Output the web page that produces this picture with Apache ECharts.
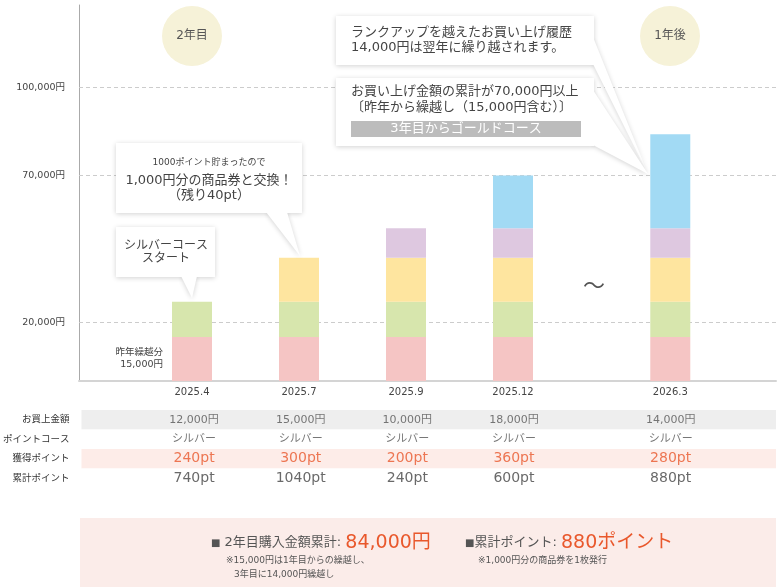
<!DOCTYPE html>
<html>
<head>
<meta charset="utf-8">
<script src="https://cdn.jsdelivr.net/npm/echarts@6/dist/echarts.min.js"></script>
<style>
html, body { margin: 0; padding: 0; background: #fff; }
#main { width: 777px; height: 588px; }
</style>
</head>
<body>
<div id="main"></div>
<script>
// datos del gráfico
const cats = ['2025.4', '2025.7', '2025.9', '2025.12', '2026.3'];
const xPos = [0, 1, 2, 3, 4.47];          // posición de cada barra (hay un salto antes de 2026.3)
const carryOver = [15000, 15000, 15000, 15000, 15000];
const buy1 = [12000, 12000, 12000, 12000, 12000];
const buy2 = ['-', 15000, 15000, 15000, 15000];
const buy3 = ['-', '-', 10000, 10000, 10000];
const buy4 = ['-', '-', '-', 18000, 32000];
const yTicks = [20000, 70000, 100000];

const rowNames = ['お買上金額', 'ポイントコース', '獲得ポイント', '累計ポイント'];
const amounts = ['12,000円', '15,000円', '10,000円', '18,000円', '14,000円'];
const courses = ['シルバー', 'シルバー', 'シルバー', 'シルバー', 'シルバー'];
const earned = ['240pt', '300pt', '200pt', '360pt', '280pt'];
const totals = ['740pt', '1040pt', '240pt', '600pt', '880pt'];

const yearTotal = '84,000円';
const pointTotal = '880ポイント';

const FONT = "'DejaVu Sans','Noto Sans CJK JP',sans-serif";
const ORANGE = '#e9582c';
const layerColors = ['#f5c5c4', '#d7e6ad', '#fee59f', '#dec8e0', '#a2daf4'];
const xMin = -1.056, xMax = 5.458;

let chart = echarts.init(document.getElementById('main'));

let fmtYen = (v) => v.toLocaleString('en-US') + '円';

let layers = [carryOver, buy1, buy2, buy3, buy4];

// barras apiladas dibujadas con las escalas del eje
let renderStack = (params, api) => {
    let x = api.value(0);
    let base = 0;
    let children = [];
    for (let k = 1; k <= layers.length; k++) {
        let v = api.value(k);
        if (!v || isNaN(v)) continue;
        let p0 = api.coord([x, base]);
        let p1 = api.coord([x, base + v]);
        children.push({
            type: 'rect',
            shape: { x: p0[0] - 20, y: p1[1], width: 40, height: p0[1] - p1[1] },
            style: { fill: layerColors[k - 1] }
        });
        if (k === 1 && params.dataIndex === 0) {
            children.push({
                type: 'text',
                x: p0[0] - 29,
                y: (p0[1] + p1[1]) / 2,
                style: {
                    text: '昨年繰越分\n' + fmtYen(v),
                    fontSize: 9.5, lineHeight: 12, fill: '#444', fontFamily: FONT,
                    align: 'right', verticalAlign: 'middle'
                }
            });
        }
        base += v;
    }
    return { type: 'group', children: children };
};

let stackSeries = {
    type: 'custom',
    silent: true,
    z: 3,
    renderItem: renderStack,
    encode: { x: 0, y: [1, 2, 3, 4, 5] },
    data: xPos.map((x, i) => [x].concat(layers.map((l) => l[i]))),
    markLine: {
        silent: true,
        z: 1,
        symbol: ['none', 'none'],
        label: { show: false },
        lineStyle: { type: [4, 3], color: '#cccccc', width: 1 },
        data: yTicks.map((v) => ({ yAxis: v }))
    }
};

let rowStyles = [
    { vals: amounts, size: 11, color: '#555' },
    { vals: courses, size: 11, color: '#555' },
    { vals: earned, size: 14, color: ORANGE },
    { vals: totals, size: 14, color: '#444' }
];

let tableSeries = rowStyles.map((r, ri) => ({
    type: 'scatter',
    xAxisIndex: 1,
    yAxisIndex: 1,
    silent: true,
    symbolSize: 1,
    itemStyle: { color: 'transparent' },
    label: {
        show: true,
        position: 'inside',
        formatter: (p) => r.vals[p.dataIndex],
        fontSize: r.size,
        color: r.color,
        fontFamily: FONT
    },
    data: xPos.map((x) => [x, ri])
}));

// globos de texto
let callout = (box, tip) => [
    { type: 'rect', z: 100, shape: box, style: { fill: '#fff', shadowBlur: 5, shadowColor: 'rgba(0,0,0,0.18)', shadowOffsetY: 1 } },
    { type: 'polygon', z: 100, shape: { points: tip }, style: { fill: '#fff', shadowBlur: 5, shadowColor: 'rgba(0,0,0,0.18)', shadowOffsetY: 1 } },
    { type: 'rect', z: 101, shape: box, style: { fill: '#fff' } }
];

let txt = (x, y, text, size, extra) => Object.assign({
    type: 'text', z: 102, x: x, y: y,
    style: Object.assign({
        text: text, fontSize: size, fill: '#444', fontFamily: FONT,
        align: 'center', verticalAlign: 'middle'
    }, extra || {})
});

let graphics = [].concat(
    // círculos
    [{ type: 'circle', shape: { cx: 192, cy: 36, r: 30 }, style: { fill: '#f6f2d8' } },
     txt(192, 36, '2年目', 12, { fill: '#555' }),
     { type: 'circle', shape: { cx: 670, cy: 36, r: 30 }, style: { fill: '#f6f2d8' } },
     txt(670, 36, '1年後', 12, { fill: '#555' }),
     txt(594, 287, '〜', 22, { fill: '#555' })],
    callout({ x: 116, y: 227, width: 99, height: 50 }, [[181, 276], [197, 276], [192, 298]]),
    [txt(166, 252.5, 'シルバーコース\nスタート', 12, { lineHeight: 13 })],
    callout({ x: 116, y: 143, width: 186, height: 70 }, [[266, 212], [287, 212], [300, 256]]),
    [txt(209, 163, '1000ポイント貯まったので', 9),
     txt(209, 188, '1,000円分の商品券と交換！\n（残り40pt）', 13, { lineHeight: 15 })],
    callout({ x: 336, y: 16, width: 258, height: 49 }, [[593, 37], [593, 64], [648, 174]]),
    callout({ x: 336, y: 78, width: 258, height: 68 }, [[593, 90], [593, 145], [648, 174]]),
    [txt(351, 40.5, 'ランクアップを越えたお買い上げ履歴\n14,000円は翌年に繰り越されます。', 13, { align: 'left', lineHeight: 15 }),
     txt(351, 100, 'お買い上げ金額の累計が70,000円以上\n〔昨年から繰越し（15,000円含む）〕', 13, { align: 'left', lineHeight: 16 }),
     { type: 'rect', z: 102, shape: { x: 351, y: 121, width: 230, height: 16 }, style: { fill: '#bcbcbc' } },
     txt(466, 129, '3年目からゴールドコース', 13, { fill: '#fff' })],
    // resumen
    [{ type: 'rect', shape: { x: 80, y: 518, width: 696, height: 69 }, style: { fill: '#fbece9' } },
     txt(211, 543, '{sq|■} {lb|2年目購入金額累計: }{val|' + yearTotal + '}', 13, {
        align: 'left',
        rich: {
            sq: { fontSize: 10, fill: '#555', fontFamily: FONT },
            lb: { fontSize: 13, fill: '#555', fontFamily: FONT },
            val: { fontSize: 19, fill: ORANGE, fontFamily: FONT }
        }
     }),
     txt(226, 561, '※15,000円は1年目からの繰越し、', 9, { align: 'left', fill: '#555' }),
     txt(234, 575, '3年目に14,000円繰越し', 9, { align: 'left', fill: '#555' }),
     txt(465, 543, '{sq|■}{lb|累計ポイント: }{val|' + pointTotal + '}', 13, {
        align: 'left',
        rich: {
            sq: { fontSize: 10, fill: '#555', fontFamily: FONT },
            lb: { fontSize: 13, fill: '#555', fontFamily: FONT },
            val: { fontSize: 19, fill: ORANGE, fontFamily: FONT }
        }
     }),
     txt(478, 561, '※1,000円分の商品券を1枚発行', 9, { align: 'left', fill: '#555' })]
);

let option = {
    animation: false,
    textStyle: { fontFamily: FONT },
    grid: [
        { left: 79, right: 1, top: 5, bottom: 207 },
        { left: 79, right: 1, top: 410, height: 78 }
    ],
    xAxis: [{
        type: 'value',
        min: xMin,
        max: xMax,
        axisLine: { show: true, onZero: false, lineStyle: { color: '#d4d4d4', width: 2 } },
        axisTick: { show: false },
        splitLine: { show: false },
        axisLabel: {
            customValues: xPos,
            margin: 6,
            fontSize: 10,
            color: '#444',
            formatter: (v) => {
                let i = xPos.indexOf(v);
                return i >= 0 ? cats[i] : '';
            }
        }
    }, {
        type: 'value',
        gridIndex: 1,
        min: xMin,
        max: xMax,
        show: false
    }],
    yAxis: [{
        type: 'value',
        min: 0,
        max: 128000,
        interval: 10000,
        axisLine: { show: true, onZero: false, lineStyle: { color: '#aaaaaa' } },
        axisTick: { show: false },
        splitLine: { show: false },
        axisLabel: {
            margin: 14,
            fontSize: 9.5,
            color: '#444',
            formatter: (v) => yTicks.includes(v) ? fmtYen(v) : ''
        }
    }, {
        type: 'category',
        gridIndex: 1,
        inverse: true,
        data: rowNames,
        axisLine: { show: false },
        axisTick: { show: false },
        axisLabel: { margin: 12, fontSize: 9.5, color: '#333' },
        splitLine: { show: false },
        splitArea: { show: true, areaStyle: { color: ['#eeeeee', '#ffffff', '#fdece8', '#ffffff'] } }
    }],
    series: [stackSeries].concat(tableSeries),
    graphic: graphics
};

option && chart.setOption(option);
window.addEventListener('resize', chart.resize);
</script>
</body>
</html>
